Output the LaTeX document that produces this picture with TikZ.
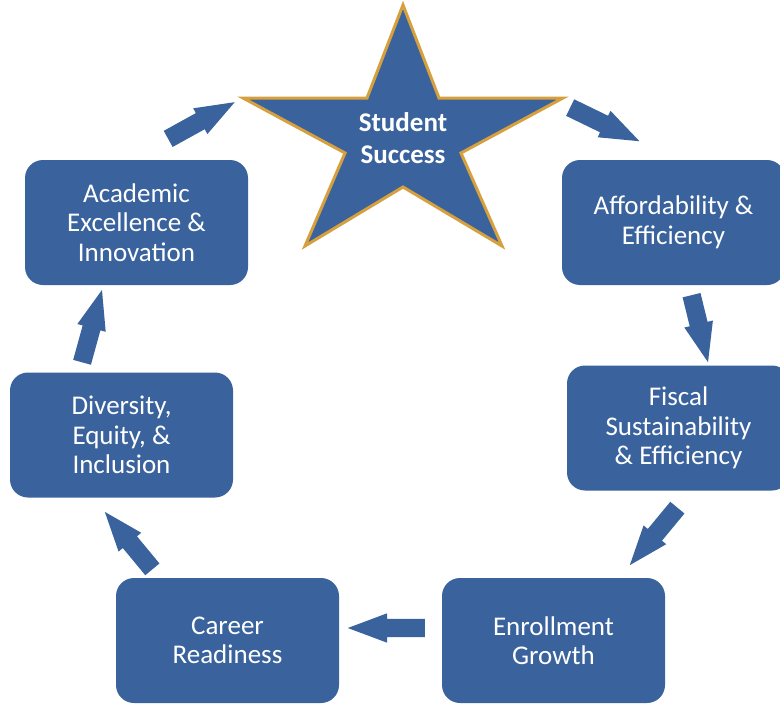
\documentclass[tikz,border=0pt]{standalone}
\usepackage{fontspec}
\setmainfont{Carlito}
\usetikzlibrary{shapes.arrows}
\definecolor{boxblue}{RGB}{58,99,157}
\definecolor{stargold}{RGB}{214,160,62}
\begin{document}
\begin{tikzpicture}[x=1pt,y=-1pt,
  box/.style={draw=none, fill=boxblue, rounded corners=18pt, minimum width=223pt, minimum height=125pt,
    text=white, align=center, font=\fontsize{27}{29.5}\selectfont, inner sep=0pt},
  blockarrow/.style={single arrow, fill=boxblue, draw=none, inner xsep=0pt, inner ysep=9pt, minimum width=29pt,
    single arrow head extend=5.5pt, single arrow tip angle=41, anchor=tail, minimum height=#1},
  startext/.style={text=white, align=center, font=\bfseries\fontsize{27}{32}\selectfont}]
\useasboundingbox[fill=white] (0,0) rectangle (780,704);

% star
\coordinate (s1) at (403,5);
\coordinate (s2) at (439,98);
\coordinate (s3) at (563,98);
\coordinate (s4) at (461,153);
\coordinate (s5) at (502,246);
\coordinate (s6) at (403,187);
\coordinate (s7) at (305,246);
\coordinate (s8) at (345,153);
\coordinate (s9) at (243,98);
\coordinate (s10) at (367,98);
\draw[fill=boxblue, draw=stargold, line width=3pt, line join=miter]
  (s1) -- (s2) -- (s3) -- (s4) -- (s5) -- (s6) -- (s7) -- (s8) -- (s9) -- (s10) -- cycle;
\node[startext] (star) at (403,138) {Student\\Success};

% boxes
\node[box] (acad) at (136.5,222.5) {Academic\\Excellence \&\\Innovation};
\node[box] (afford) at (673.5,222.5) {Affordability \&\\Efficiency};
\node[box] (fiscal) at (678.5,428) {Fiscal\\Sustainability\\\& Efficiency};
\node[box] (divers) at (121.5,435) {Diversity,\\Equity, \&\\Inclusion};
\node[box] (career) at (227.5,640.5) {Career\\Readiness};
\node[box] (enroll) at (553.5,640.5) {Enrollment\\Growth};

% block arrows
\node[blockarrow=76pt, rotate=28.9] (a1) at (168,139) {};
\node[blockarrow=77pt, rotate=-25.9] (a2) at (570,107.5) {};
\node[blockarrow=69pt, rotate=-76.2] (a3) at (691.5,295) {};
\node[blockarrow=74.6pt, rotate=-129.6] (a4) at (677.5,507.5) {};
\node[blockarrow=77pt, rotate=180] (a5) at (425,628) {};
\node[blockarrow=74.6pt, rotate=129.6] (a6) at (152.5,569.5) {};
\node[blockarrow=75pt, rotate=74.6] (a7) at (82,362.5) {};
\end{tikzpicture}
\end{document}
